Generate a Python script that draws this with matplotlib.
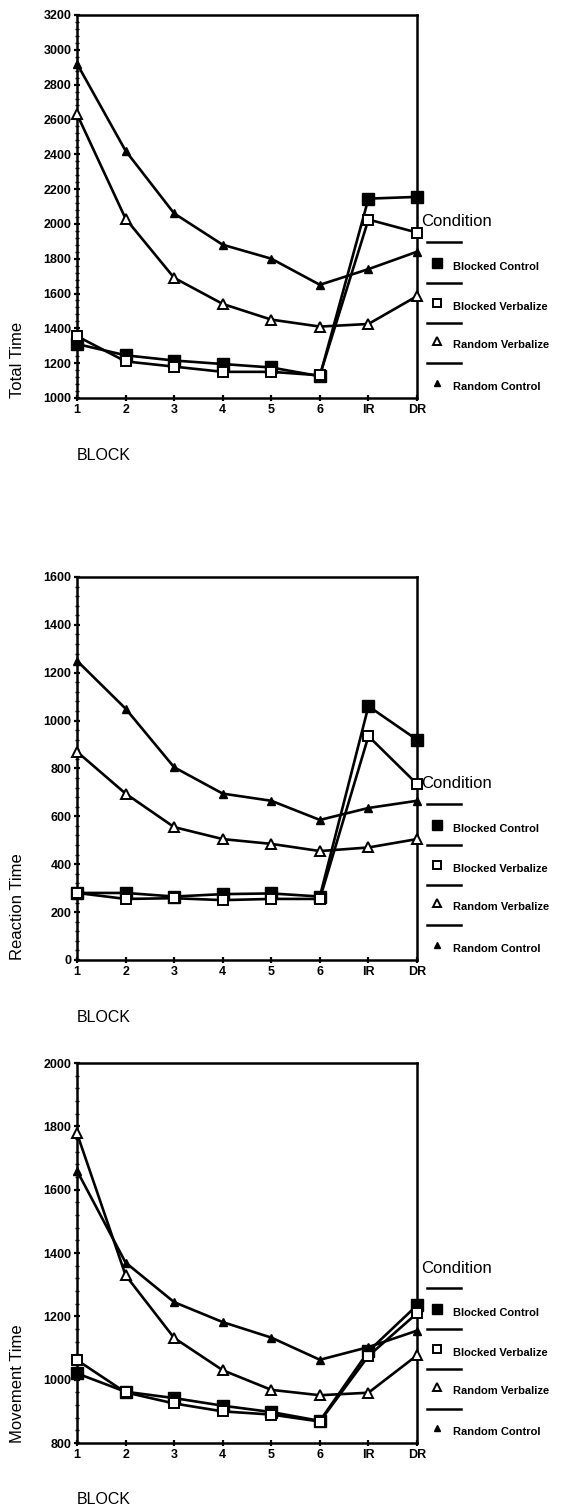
import matplotlib
matplotlib.use('Agg')
import matplotlib.pyplot as plt
from matplotlib.ticker import MultipleLocator

plt.rcParams['font.family'] = ['Liberation Sans', 'DejaVu Sans']

# data
blocks = ['1', '2', '3', '4', '5', '6', 'IR', 'DR']
conditions = ['Blocked Control', 'Blocked Verbalize', 'Random Verbalize', 'Random Control']

total_bc = [1310, 1245, 1215, 1195, 1175, 1125, 2145, 2155]
total_bv = [1355, 1210, 1180, 1150, 1150, 1130, 2025, 1950]
total_rv = [2630, 2030, 1690, 1540, 1450, 1410, 1425, 1585]
total_rc = [2920, 2420, 2060, 1880, 1800, 1650, 1740, 1840]

react_bc = [280, 280, 265, 275, 278, 265, 1060, 920]
react_bv = [280, 255, 258, 250, 255, 255, 935, 735]
react_rv = [870, 695, 555, 505, 485, 455, 470, 505]
react_rc = [1250, 1050, 805, 695, 665, 585, 635, 665]

move_bc = [1020, 962, 942, 918, 898, 870, 1090, 1235]
move_bv = [1062, 960, 925, 900, 890, 868, 1075, 1210]
move_rv = [1778, 1330, 1132, 1030, 968, 951, 959, 1077]
move_rc = [1660, 1370, 1245, 1182, 1133, 1063, 1103, 1155]

# marker style for each condition
styles = {
    'Blocked Control': dict(marker='s', ms=8, mfc='black', mec='black'),
    'Blocked Verbalize': dict(marker='s', ms=7, mfc='white', mec='black', mew=1.4),
    'Random Verbalize': dict(marker='^', ms=7.5, mfc='white', mec='black', mew=1.4),
    'Random Control': dict(marker='^', ms=6, mfc='black', mec='black'),
}

panels = [
    ('Total Time', (1000, 3200), [total_bc, total_bv, total_rv, total_rc], [0.1351, 0.7368, 0.5965, 0.2533]),
    ('Reaction Time', (0, 1600), [react_bc, react_bv, react_rv, react_rc], [0.1351, 0.3651, 0.5965, 0.2533]),
    ('Movement Time', (800, 2000), [move_bc, move_bv, move_rv, move_rc], [0.1351, 0.0456, 0.5965, 0.2513]),
]

fig = plt.figure(figsize=(5.7, 15.12), dpi=100)

for ylabel, ylim, series, rect in panels:
    ax = fig.add_axes(rect)
    x = list(range(len(blocks)))
    for name, vals in zip(conditions, series):
        ax.plot(x, vals, color='black', lw=1.9, **styles[name], clip_on=False, zorder=3)

    ax.set_xlim(0, len(blocks) - 1)
    ax.set_ylim(*ylim)
    ax.set_xticks(x)
    ax.set_xticklabels(blocks, fontsize=9, fontweight='bold')
    ax.yaxis.set_major_locator(MultipleLocator(200))
    ax.yaxis.set_minor_locator(MultipleLocator(40))
    for lab in ax.get_yticklabels():
        lab.set_fontsize(9)
        lab.set_fontweight('bold')
    ax.tick_params(axis='both', which='major', direction='inout', length=4, width=1.6, pad=2)
    ax.tick_params(axis='y', which='minor', direction='inout', length=3, width=1)
    for sp in ax.spines.values():
        sp.set_linewidth(1.8)

    ax.text(-0.176, 0.0, ylabel, rotation=90, ha='center', va='bottom',
            fontsize=12, transform=ax.transAxes)
    ax.text(0.0, -0.149, 'BLOCK', ha='left', va='center', fontsize=11.5,
            transform=ax.transAxes)

    # hand-made legend to the right of the plot
    ax.text(1.013, 0.46, 'Condition', ha='left', va='center', fontsize=12,
            transform=ax.transAxes)
    line_y = [0.407, 0.30, 0.196, 0.09]
    label_y = [0.342, 0.238, 0.138, 0.029]
    for name, ly, ty in zip(conditions, line_y, label_y):
        ax.plot([1.03, 1.13], [ly, ly], color='black', lw=1.8,
                transform=ax.transAxes, clip_on=False)
        st = dict(styles[name])
        st['ms'] = st['ms'] - 1.5
        ax.plot([1.06], [ty + 0.01], color='black', lw=0, **st,
                transform=ax.transAxes, clip_on=False)
        ax.text(1.105, ty, name, ha='left', va='center', fontsize=8,
                fontweight='bold', transform=ax.transAxes)

fig.savefig('out.png', dpi=100)
